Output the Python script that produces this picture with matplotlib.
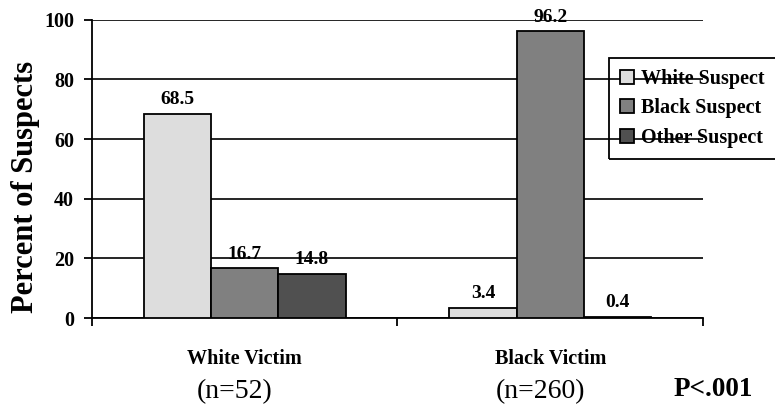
import numpy as np
import matplotlib.pyplot as plt

plt.rcParams["font.family"] = ["Liberation Serif", "DejaVu Serif"]

# data
victims = ["White Victim", "Black Victim"]
counts = ["(n=52)", "(n=260)"]
suspects = ["White Suspect", "Black Suspect", "Other Suspect"]
white_suspect = [68.5, 3.4]
black_suspect = [16.7, 96.2]
other_suspect = [14.8, 0.4]
colors = ["#DDDDDD", "#808080", "#505050"]

fig = plt.figure(figsize=(7.75, 4.13), dpi=100)
ax = fig.add_axes([0.1187, 0.230, 0.7884, 0.722])

x = np.arange(len(victims))
w = 0.22
series = [white_suspect, black_suspect, other_suspect]
for i, (vals, name) in enumerate(zip(series, suspects)):
    pos = x + (i - 1) * w
    bars = ax.bar(pos, vals, width=w, color=colors[i], edgecolor="black",
                  linewidth=1.3, label=name, zorder=3)
    for xp, v in zip(pos, vals):
        ax.annotate(f"{v:.1f}", (xp, v), xytext=(0, 4), textcoords="offset points",
                    ha="center", va="bottom", fontsize=14, fontweight="bold")

ax.set_xlim(-0.5, 1.5)
ax.set_ylim(0, 100)
ax.set_yticks([0, 20, 40, 60, 80, 100])
ax.yaxis.grid(True, color="black", linewidth=1.2, zorder=0)
ax.set_axisbelow(True)
for s in ["top", "right"]:
    ax.spines[s].set_visible(False)
ax.spines["left"].set_linewidth(1.3)
ax.spines["bottom"].set_linewidth(1.3)

ax.tick_params(axis="y", direction="out", length=6, width=1.3, labelsize=14.5, pad=7)
for lab in ax.get_yticklabels():
    lab.set_fontweight("bold")

ax.set_xticks(x)
ax.set_xticklabels(victims, fontsize=14.5, fontweight="bold")
ax.tick_params(axis="x", which="major", length=0, pad=22)
ax.set_xticks([-0.5, 0.5, 1.5], minor=True)
ax.tick_params(axis="x", which="minor", direction="out", length=6, width=1.3)

ax.set_ylabel("Percent of Suspects", fontsize=22, fontweight="bold")
ax.yaxis.set_label_coords(-0.085, 0.44)

# sample sizes and p value
for xp, c in zip(x, counts):
    px = ax.transData.transform((xp, 0))[0] / fig.bbox.width
    fig.text(px - 0.013, 0.053, c, fontsize=20, ha="center", va="center")
fig.text(0.92, 0.058, "P<.001", fontsize=19.5, fontweight="bold", ha="center", va="center")

leg = fig.legend(loc="upper left", bbox_to_anchor=(0.786, 0.860),
                 prop={"weight": "bold", "size": 14.5}, frameon=True, fancybox=False,
                 edgecolor="black", facecolor="none", framealpha=1,
                 handlelength=0.7, handleheight=0.7, handletextpad=0.35,
                 labelspacing=0.47, borderpad=0.55, borderaxespad=0)
leg.get_frame().set_linewidth(1.3)

fig.savefig("out.png", dpi=100)
